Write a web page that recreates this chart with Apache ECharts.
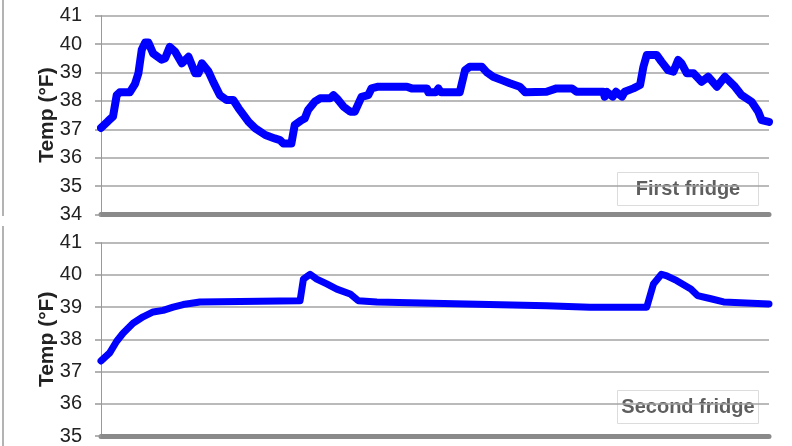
<!DOCTYPE html>
<html><head><meta charset="utf-8">
<script src="https://cdn.jsdelivr.net/npm/echarts@6/dist/echarts.min.js"></script>
<style>html,body{margin:0;padding:0;background:#fff}#c{width:792px;height:446px}</style>
</head><body><div id="c"></div>
<script>
// First fridge: time (relative units 0-100) and temperature (°F)
var firstTime = [0,1.1,1.8,2.35,2.8,4.3,5.1,5.6,6.1,6.6,7.1,7.8,9.1,9.6,10.3,11.1,12.1,13.1,14.1,14.6,15.1,16.1,16.8,17.8,18.8,19.8,20.6,22.1,23.1,24.6,26.0,26.8,27.3,28.5,29.0,30.0,30.5,31.0,32.0,32.8,34.3,34.8,35.3,36.3,37.3,38.0,39.0,40.0,40.5,41.5,45.8,46.5,48.8,49.0,50.1,50.5,50.9,53.7,54.5,55.2,57.0,57.7,58.7,60.0,61.2,62.7,63.5,66.7,68.2,70.5,71.2,75.2,75.4,75.7,76.6,77.1,78.0,78.4,79.7,80.7,81.2,81.7,83.2,83.9,84.9,85.7,86.4,86.9,87.7,88.7,89.9,90.9,92.2,93.4,94.9,95.9,97.4,98.4,98.9,100];
var firstTemp = [37.05,37.3,37.45,38.2,38.3,38.3,38.6,38.97,39.8,40.05,40.05,39.67,39.45,39.5,39.9,39.73,39.32,39.55,38.97,38.97,39.32,39.03,38.67,38.2,38.03,38.03,37.74,37.26,37.03,36.8,36.68,36.62,36.5,36.5,37.15,37.32,37.38,37.68,37.97,38.09,38.09,38.2,38.09,37.8,37.62,37.62,38.14,38.2,38.44,38.5,38.5,38.44,38.44,38.3,38.3,38.44,38.3,38.3,39.08,39.2,39.2,39.02,38.85,38.73,38.62,38.5,38.3,38.32,38.44,38.44,38.32,38.32,38.15,38.32,38.15,38.32,38.15,38.32,38.44,38.56,39.2,39.61,39.61,39.38,39.08,39.03,39.44,39.32,38.97,38.97,38.67,38.85,38.5,38.85,38.5,38.2,37.97,37.62,37.32,37.26];
// Second fridge
var secondTime = [0,1.3,2.35,3.3,4.8,6.3,7.8,9.3,10.8,12.3,14.8,29.8,30.3,31.3,32.3,33.8,35.3,37.3,38.5,41.3,54.7,54.9,66.7,73.2,81.7,82.7,83.9,84.7,86.2,88.3,89.3,91.3,93.2,100];
var secondTemp = [37.33,37.58,37.94,38.19,38.5,38.7,38.85,38.9,39.0,39.08,39.16,39.2,39.87,40.02,39.87,39.72,39.56,39.41,39.2,39.16,39.1,39.04,39.04,39.0,39.0,39.72,40.02,39.97,39.82,39.56,39.36,39.26,39.16,39.1];
var panelLabels = ['First fridge', 'Second fridge'];
var yName = 'Temp (°F)';

function pairs(t, v) { return t.map(function (x, i) { return [x, v[i]]; }); }

var chart = echarts.init(document.getElementById('c'), null, {renderer: 'canvas'});
var font = 'Arial, "Liberation Sans", sans-serif';
function yAxis(idx, min) {
  return {
    type: 'value', gridIndex: idx, min: min, max: 41, interval: 1,
    name: yName, nameLocation: 'middle', nameGap: 43, nameMoveOverlap: false,
    nameTextStyle: {fontFamily: font, fontSize: 21, fontWeight: 'bold', color: '#222'},
    axisLine: {show: true, lineStyle: {color: '#999', width: 1}},
    axisTick: {show: true, length: 6, lineStyle: {color: '#999', width: 1.5}},
    axisLabel: {fontFamily: font, fontSize: 20, color: '#222', margin: 19},
    splitLine: {show: true, lineStyle: {color: '#a3a3a3', width: 1.6}}
  };
}
function xAxis(idx) {
  return {
    type: 'value', gridIndex: idx, min: 0, max: 100,
    axisLine: {show: true, onZero: false, lineStyle: {color: '#8a8a8a', width: 5}},
    axisTick: {show: false}, axisLabel: {show: false}, splitLine: {show: false}
  };
}
function box(x, y, w, h, label) {
  return {
    type: 'group', left: x, top: y, z: 100,
    children: [
      {type: 'rect', shape: {x: 0, y: 0, width: w, height: h}, style: {fill: '#fff', stroke: '#dcdcdc', lineWidth: 1}},
      {type: 'text', x: w / 2, y: h / 2, style: {text: label, fill: '#5e5e5e', font: 'bold 20px ' + font, align: 'center', verticalAlign: 'middle'}}
    ]
  };
}
chart.setOption({
  animation: false,
  grid: [
    {left: 101, right: 23, top: 15.6, height: 199},
    {left: 101, right: 23, top: 242.7, height: 198}
  ],
  xAxis: [xAxis(0), xAxis(1)],
  yAxis: [yAxis(0, 34), yAxis(1, 35)],
  series: [
    {type: 'line', xAxisIndex: 0, yAxisIndex: 0, data: pairs(firstTime, firstTemp), showSymbol: false,
     lineStyle: {color: '#0000ff', width: 8, join: 'round', cap: 'round'}},
    {type: 'line', xAxisIndex: 1, yAxisIndex: 1, data: pairs(secondTime, secondTemp), showSymbol: false,
     lineStyle: {color: '#0000ff', width: 7, join: 'round', cap: 'round'}}
  ],
  graphic: [
    box(617, 172, 141, 33, panelLabels[0]),
    box(617, 390, 141, 33, panelLabels[1]),
    {type: 'line', shape: {x1: 3, y1: 0, x2: 3, y2: 216}, style: {stroke: '#9a9a9a', lineWidth: 1.5}},
    {type: 'line', shape: {x1: 3, y1: 226, x2: 3, y2: 446}, style: {stroke: '#9a9a9a', lineWidth: 1.5}}
  ]
});
</script></body></html>
